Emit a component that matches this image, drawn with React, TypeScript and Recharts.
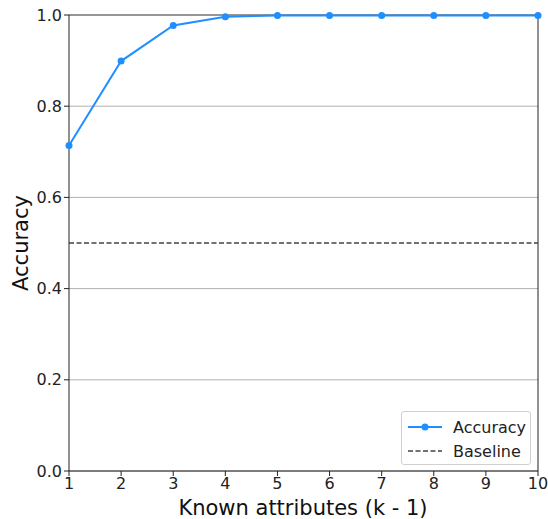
import React from 'react';
import {
  LineChart,
  Line,
  XAxis,
  YAxis,
  CartesianGrid,
  ReferenceLine,
} from 'recharts';

const knownAttributes = [1, 2, 3, 4, 5, 6, 7, 8, 9, 10];
const accuracy = [0.714, 0.899, 0.977, 0.996, 0.999, 0.999, 0.999, 0.999, 0.999, 0.999];
const baseline = [0.5, 0.5, 0.5, 0.5, 0.5, 0.5, 0.5, 0.5, 0.5, 0.5];
const yTicks = [0, 0.2, 0.4, 0.6, 0.8, 1.0];

const data = knownAttributes.map((k, i) => ({
  k,
  accuracy: accuracy[i],
  baseline: baseline[i],
}));

const blue = '#1f8fff';
const font = '"DejaVu Sans", sans-serif';

function LegendBox() {
  return (
    <div
      style={{
        position: 'absolute',
        left: 401,
        top: 411,
        width: 130,
        height: 54,
        boxSizing: 'border-box',
        background: 'rgba(255,255,255,0.8)',
        border: '1px solid #d0d0d0',
        borderRadius: 3,
        fontFamily: font,
        fontSize: 16,
        color: '#222',
        padding: '3px 0 0 6px',
      }}
    >
      <div style={{ display: 'flex', alignItems: 'center', height: 24 }}>
        <svg width={34} height={10} style={{ marginRight: 11 }}>
          <line x1={0} y1={5} x2={34} y2={5} stroke={blue} strokeWidth={2} />
          <circle cx={17} cy={5} r={3.5} fill={blue} />
        </svg>
        Accuracy
      </div>
      <div style={{ display: 'flex', alignItems: 'center', height: 24 }}>
        <svg width={34} height={10} style={{ marginRight: 11 }}>
          <line x1={0} y1={5} x2={34} y2={5} stroke="#444" strokeWidth={1.5} strokeDasharray="5 2.5" />
        </svg>
        Baseline
      </div>
    </div>
  );
}

const YLabel = () => (
  <text
    x={21}
    y={243}
    transform="rotate(-90 21 243)"
    textAnchor="middle"
    dominantBaseline="central"
    fill="#111"
    fontSize={21}
    fontFamily={font}
  >
    Accuracy
  </text>
);

const XLabel = () => (
  <text
    x={303}
    y={508}
    textAnchor="middle"
    dominantBaseline="central"
    fill="#111"
    fontSize={21}
    fontFamily={font}
  >
    Known attributes (k - 1)
  </text>
);

export default function App() {
  return (
    <div style={{ position: 'absolute', left: 0, top: 0, width: 548, height: 519, background: '#fff' }}>
      <LineChart
        width={548}
        height={519}
        data={data}
        margin={{ top: 15, right: 10, bottom: 0, left: 0 }}
      >
        <CartesianGrid vertical={false} stroke="#b0b0b0" strokeWidth={1} />
        <XAxis
          dataKey="k"
          type="number"
          domain={[1, 10]}
          ticks={knownAttributes}
          height={48}
          tickSize={5}
          tickMargin={2}
          stroke="#222"
          tick={{ fill: '#222', fontSize: 16, fontFamily: font }}
          axisLine={{ stroke: '#222', strokeWidth: 1 }}
          label={{ content: () => <XLabel /> }}
        />
        <YAxis
          type="number"
          domain={[0, 1]}
          ticks={yTicks}
          width={69}
          tickSize={5}
          tickMargin={2}
          stroke="#222"
          tickFormatter={(v: number) => v.toFixed(1)}
          tick={{ fill: '#222', fontSize: 16, fontFamily: font }}
          axisLine={{ stroke: '#222', strokeWidth: 1 }}
          label={{ content: () => <YLabel /> }}
        />
        <ReferenceLine x={10} stroke="#222" strokeWidth={1} />
        <ReferenceLine y={1} stroke="#808080" strokeWidth={1.5} />
        <Line
          dataKey="baseline"
          stroke="#444"
          strokeWidth={1.5}
          strokeDasharray="5 2.5"
          dot={false}
          activeDot={false}
          isAnimationActive={false}
        />
        <Line
          dataKey="accuracy"
          stroke={blue}
          strokeWidth={2}
          dot={{ r: 3.5, fill: blue, stroke: blue, strokeWidth: 0 }}
          activeDot={false}
          isAnimationActive={false}
        />
      </LineChart>
      <LegendBox />
    </div>
  );
}
